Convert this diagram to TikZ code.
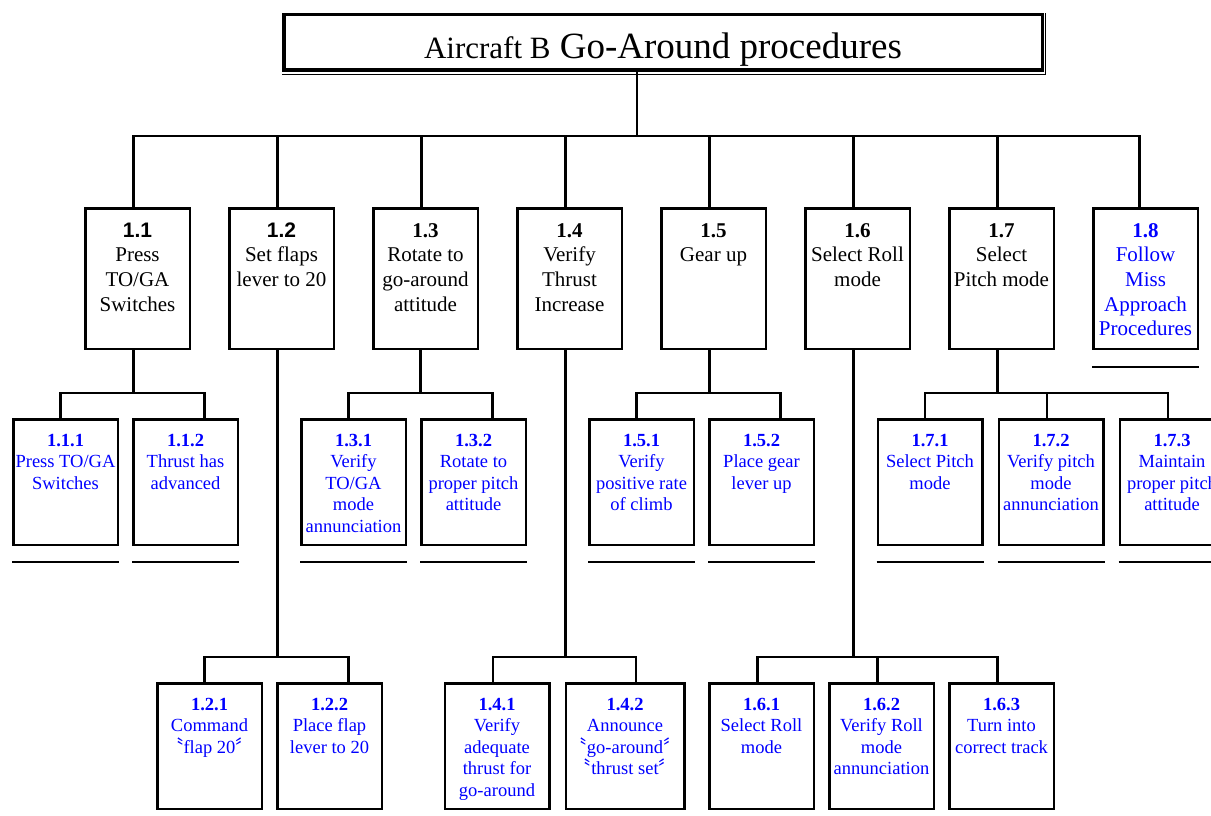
\documentclass[tikz,border=0pt]{standalone}
\usepackage{fontspec}
\setmainfont{Liberation Serif}
\setsansfont{Liberation Sans}
\newfontfamily\cjk{Noto Sans CJK SC}
\usetikzlibrary{positioning}
\tikzset{task/.style={draw, line width=2.5pt, inner sep=0pt, anchor=north, font=\fontsize{21}{24.7}\selectfont}}
\tikzset{sub/.style={task, text=blue, font=\fontsize{18.5}{21.5}\selectfont}}
\tikzset{titlebox/.style={draw, line width=3.5pt, inner sep=0pt, minimum width=758.5pt, minimum height=55.5pt, text height=40pt, text depth=8pt, font=\fontsize{37}{37}\selectfont}}
\tikzset{link/.style={line width=2.5pt}}
\tikzset{underbar/.style={line width=2pt}}
\newcommand{\toptext}[2]{\parbox[t][140.5pt][t]{104.5pt}{\centering\rule{0pt}{28.8pt}#1\\#2}}
\newcommand{\subtext}[3][104.5pt]{\parbox[t][125.5pt][t]{#1}{\centering\rule{0pt}{26.8pt}\textbf{#2}\\#3}}
\newcommand{\qo}{{\cjk 〝}}
\newcommand{\qc}{{\cjk 〞}}

\begin{document}
\begin{tikzpicture}[x=1pt, y=-1pt]
\useasboundingbox (0,0) rectangle (1211,816);
\clip (0,0) rectangle (1211,816);

\node[titlebox] (title) at (663,42.5) {{\fontsize{31}{31}\selectfont Aircraft B} Go-Around procedures};
\draw[line width=1.2pt] ([yshift=-2.5pt]title.south west) -| ([xshift=1.5pt]title.north east);

% level 1
\node[task] (n11) at (137.5,207) {\toptext{\textsf{\textbf{1.1}}}{Press\\TO/GA\\Switches}};
\node[task] (n12) [right=37pt of n11] {\toptext{\textsf{\textbf{1.2}}}{Set flaps\\lever to 20}};
\node[task] (n13) [right=37pt of n12] {\toptext{\textbf{1.3}}{Rotate to\\go-around\\attitude}};
\node[task] (n14) [right=37pt of n13] {\toptext{\textbf{1.4}}{Verify\\Thrust\\Increase}};
\node[task] (n15) [right=37pt of n14] {\toptext{\textbf{1.5}}{Gear up}};
\node[task] (n16) [right=37pt of n15] {\toptext{\textbf{1.6}}{Select Roll\\mode}};
\node[task] (n17) [right=37pt of n16] {\toptext{\textbf{1.7}}{Select\\Pitch mode}};
\node[task, text=blue] (n18) [right=37pt of n17] {\toptext{\textbf{1.8}}{Follow\\Miss\\Approach\\Procedures}};

% level 2
\node[sub] (n111) at (65.5,418) {\subtext{1.1.1}{Press TO/GA\\Switches}};
\node[sub] (n112) [right=13pt of n111] {\subtext{1.1.2}{Thrust has\\advanced}};
\node[sub] (n131) at (353.5,418) {\subtext{1.3.1}{Verify\\TO/GA\\mode\\annunciation}};
\node[sub] (n132) [right=13pt of n131] {\subtext{1.3.2}{Rotate to\\proper pitch\\attitude}};
\node[sub] (n151) at (641.5,418) {\subtext{1.5.1}{Verify\\positive rate\\of climb}};
\node[sub] (n152) [right=13pt of n151] {\subtext{1.5.2}{Place gear\\lever up}};
\node[sub] (n171) at (930,418) {\subtext{1.7.1}{Select Pitch\\mode}};
\node[sub] (n172) [right=14pt of n171] {\subtext{1.7.2}{Verify pitch\\mode\\annunciation}};
\node[sub] (n173) [right=14pt of n172] {\subtext{1.7.3}{Maintain\\proper pitch\\attitude}};

% level 3
\node[sub] (n121) at (209.5,682) {\subtext{1.2.1}{Command\\\qo flap 20\qc}};
\node[sub] (n122) [right=13pt of n121] {\subtext{1.2.2}{Place flap\\lever to 20}};
\node[sub] (n141) at (497,682) {\subtext{1.4.1}{Verify\\adequate\\thrust for\\go-around}};
\node[sub] (n142) [right=14pt of n141] {\subtext[118.5pt]{1.4.2}{Announce\\\qo go-around\qc\\\qo thrust set\qc}};
\node[sub] (n161) at (761.5,682) {\subtext{1.6.1}{Select Roll\\mode}};
\node[sub] (n162) [right=13pt of n161] {\subtext{1.6.2}{Verify Roll\\mode\\annunciation}};
\node[sub] (n163) [right=13pt of n162] {\subtext{1.6.3}{Turn into\\correct track}};

% title to level 1
\coordinate (bar) at (0,136);
\draw[link] ([xshift=-26pt]title.south) -- ([xshift=-26pt]title.south |- bar);
\draw[link] ([xshift=-4pt]n11.north) |- ([xshift=-6pt]n18.north |- bar) -- ([xshift=-6pt]n18.north);
\foreach \n in {12,...,17}
  \draw[link] ([xshift=-4pt]n\n.north) -- ([xshift=-4pt]n\n.north |- bar);

% level 1 to level 2
\draw[link] ([xshift=-4pt]n11.south) -- ++(0,43) -| ([xshift=-5pt]n111.north);
\draw[link] ([xshift=-4pt]n11.south) ++(0,43) -| ([xshift=19pt]n112.north);
\draw[link] ([xshift=-5pt]n13.south) -- ++(0,43) -| ([xshift=-5pt]n131.north);
\draw[link] ([xshift=-5pt]n13.south) ++(0,43) -| ([xshift=19pt]n132.north);
\draw[link] ([xshift=-4pt]n15.south) -- ++(0,43) -| ([xshift=-5pt]n151.north);
\draw[link] ([xshift=-4pt]n15.south) ++(0,43) -| ([xshift=19pt]n152.north);
\draw[link] ([xshift=-4pt]n17.south) -- ++(0,43) -| ([xshift=-5pt]n171.north);
\draw[link] ([xshift=-4pt]n17.south) ++(0,43) -| ([xshift=-4pt]n172.north);
\draw[link] ([xshift=-4pt]n17.south) ++(0,43) -| ([xshift=-4pt]n173.north);

% level 1 to level 3
\draw[link] ([xshift=-4pt]n12.south) -- ++(0,307) -| ([xshift=-5pt]n121.north);
\draw[link] ([xshift=-4pt]n12.south) ++(0,307) -| ([xshift=19pt]n122.north);
\draw[link] ([xshift=-4pt]n14.south) -- ++(0,307) -| ([xshift=-4pt]n141.north);
\draw[link] ([xshift=-4pt]n14.south) ++(0,307) -| ([xshift=11pt]n142.north);
\draw[link] ([xshift=-4pt]n16.south) -- ++(0,307) -| ([xshift=-4pt]n161.north);
\draw[link] ([xshift=-4pt]n16.south) ++(0,307) -| ([xshift=-4pt]n162.north);
\draw[link] ([xshift=-4pt]n16.south) ++(0,307) -| ([xshift=-4pt]n163.north);

% underlines
\draw[underbar] ([yshift=-17pt]n18.south west) -- ([yshift=-17pt]n18.south east);
\foreach \n in {111,112,131,132,151,152,171,172,173}
  \draw[underbar] ([yshift=-16pt]n\n.south west) -- ([yshift=-16pt]n\n.south east);
\end{tikzpicture}
\end{document}
